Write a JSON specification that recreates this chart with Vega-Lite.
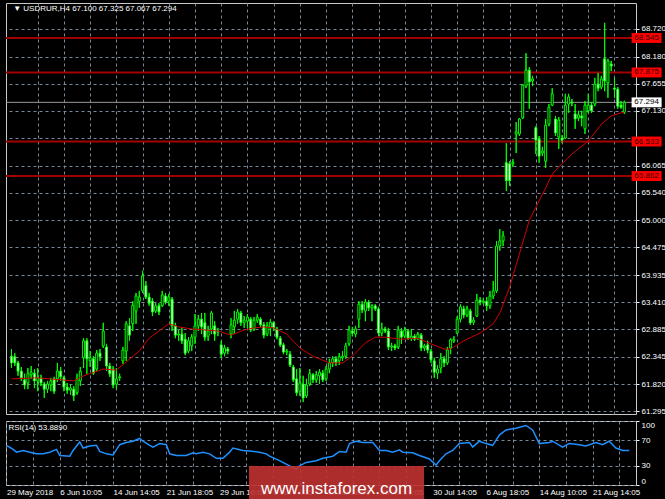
{
"$schema": "https://vega.github.io/schema/vega-lite/v6.json",
"background": "#000000",
"padding": {"left": 2, "top": 2, "right": 0, "bottom": 0},
"spacing": 4,
"resolve": {"scale": {"x": "independent", "y": "independent"}},
"config": {
  "view": {"stroke": "#c8c8c8", "strokeWidth": 1},
  "axis": {"labelColor": "#ffffff", "labelFont": "Liberation Sans", "labelFontSize": 8, "labelOverlap": false, "labelBound": false, "gridColor": "#778899", "gridDash": [3, 3], "gridOpacity": 1, "domain": false, "tickColor": "#ffffff", "title": null},
  "text": {"font": "Liberation Sans"}
},
"datasets": {
  "candles": [
{"i":0,"o":62.36,"h":62.50,"l":62.13,"c":62.23},
{"i":1,"o":62.35,"h":62.42,"l":62.17,"c":62.23},
{"i":2,"o":62.23,"h":62.27,"l":61.98,"c":62.07},
{"i":3,"o":62.07,"h":62.15,"l":61.88,"c":61.94},
{"i":4,"o":61.90,"h":62.02,"l":61.72,"c":61.80},
{"i":5,"o":61.84,"h":62.13,"l":61.72,"c":62.02},
{"i":6,"o":62.00,"h":62.17,"l":61.92,"c":62.05},
{"i":7,"o":62.03,"h":62.11,"l":61.74,"c":61.88},
{"i":8,"o":61.88,"h":62.13,"l":61.68,"c":61.94},
{"i":9,"o":61.94,"h":62.00,"l":61.78,"c":61.84},
{"i":10,"o":61.82,"h":61.86,"l":61.55,"c":61.72},
{"i":11,"o":61.72,"h":61.88,"l":61.65,"c":61.82},
{"i":12,"o":61.80,"h":61.94,"l":61.68,"c":61.88},
{"i":13,"o":61.92,"h":61.96,"l":61.63,"c":61.68},
{"i":14,"o":61.92,"h":62.23,"l":61.86,"c":62.07},
{"i":15,"o":62.07,"h":62.15,"l":61.88,"c":61.96},
{"i":16,"o":61.94,"h":61.98,"l":61.68,"c":61.76},
{"i":17,"o":61.76,"h":61.84,"l":61.63,"c":61.70},
{"i":18,"o":61.70,"h":61.82,"l":61.61,"c":61.74},
{"i":19,"o":61.72,"h":61.78,"l":61.49,"c":61.59},
{"i":20,"o":61.65,"h":62.02,"l":61.61,"c":61.92},
{"i":21,"o":61.88,"h":62.15,"l":61.78,"c":62.07},
{"i":22,"o":62.33,"h":62.71,"l":62.13,"c":62.66},
{"i":23,"o":62.66,"h":62.71,"l":62.02,"c":62.31},
{"i":24,"o":62.27,"h":62.46,"l":62.15,"c":62.33},
{"i":25,"o":62.31,"h":62.36,"l":62.00,"c":62.03},
{"i":26,"o":62.11,"h":62.48,"l":62.07,"c":62.42},
{"i":27,"o":62.42,"h":62.50,"l":62.27,"c":62.35},
{"i":28,"o":62.56,"h":63.01,"l":62.52,"c":62.85},
{"i":29,"o":62.54,"h":62.60,"l":62.07,"c":62.17},
{"i":30,"o":62.17,"h":62.23,"l":61.96,"c":62.02},
{"i":31,"o":62.11,"h":62.17,"l":61.74,"c":61.80},
{"i":32,"o":61.82,"h":62.13,"l":61.72,"c":61.92},
{"i":33,"o":61.94,"h":62.02,"l":61.88,"c":61.96},
{"i":34,"o":62.27,"h":62.54,"l":62.21,"c":62.48},
{"i":35,"o":62.46,"h":63.04,"l":62.27,"c":62.99},
{"i":36,"o":62.95,"h":63.10,"l":62.66,"c":62.77},
{"i":37,"o":62.99,"h":63.43,"l":62.85,"c":63.35},
{"i":38,"o":63.24,"h":63.59,"l":62.99,"c":63.53},
{"i":39,"o":63.43,"h":63.63,"l":63.30,"c":63.51},
{"i":40,"o":63.63,"h":64.02,"l":63.59,"c":63.92},
{"i":41,"o":63.73,"h":63.82,"l":63.47,"c":63.51},
{"i":42,"o":63.51,"h":63.59,"l":63.34,"c":63.39},
{"i":43,"o":63.43,"h":63.49,"l":63.14,"c":63.22},
{"i":44,"o":63.24,"h":63.39,"l":63.20,"c":63.34},
{"i":45,"o":63.34,"h":63.39,"l":63.16,"c":63.22},
{"i":46,"o":63.34,"h":63.63,"l":63.32,"c":63.55},
{"i":47,"o":63.53,"h":63.59,"l":63.37,"c":63.41},
{"i":48,"o":63.43,"h":63.57,"l":63.34,"c":63.51},
{"i":49,"o":63.47,"h":63.51,"l":62.85,"c":62.95},
{"i":50,"o":62.95,"h":63.01,"l":62.71,"c":62.77},
{"i":51,"o":62.77,"h":62.87,"l":62.66,"c":62.79},
{"i":52,"o":62.79,"h":62.91,"l":62.60,"c":62.66},
{"i":53,"o":62.69,"h":62.81,"l":62.38,"c":62.42},
{"i":54,"o":62.46,"h":62.73,"l":62.42,"c":62.66},
{"i":55,"o":62.56,"h":62.79,"l":62.46,"c":62.73},
{"i":56,"o":62.73,"h":63.18,"l":62.60,"c":62.95},
{"i":57,"o":62.95,"h":63.16,"l":62.85,"c":63.08},
{"i":58,"o":63.08,"h":63.20,"l":62.79,"c":62.93},
{"i":59,"o":63.01,"h":63.20,"l":62.66,"c":62.73},
{"i":60,"o":62.75,"h":62.95,"l":62.66,"c":62.85},
{"i":61,"o":62.89,"h":63.24,"l":62.79,"c":63.20},
{"i":62,"o":62.95,"h":63.04,"l":62.66,"c":62.79},
{"i":63,"o":62.83,"h":62.91,"l":62.75,"c":62.85},
{"i":64,"o":62.58,"h":62.66,"l":62.33,"c":62.40},
{"i":65,"o":62.42,"h":62.58,"l":62.36,"c":62.52},
{"i":66,"o":62.50,"h":62.54,"l":62.40,"c":62.46},
{"i":67,"o":62.79,"h":63.10,"l":62.71,"c":62.97},
{"i":68,"o":62.93,"h":63.24,"l":62.79,"c":63.06},
{"i":69,"o":63.08,"h":63.28,"l":62.99,"c":63.22},
{"i":70,"o":63.20,"h":63.24,"l":62.95,"c":63.01},
{"i":71,"o":63.01,"h":63.14,"l":62.91,"c":63.06},
{"i":72,"o":63.04,"h":63.18,"l":62.91,"c":63.12},
{"i":73,"o":63.08,"h":63.12,"l":62.83,"c":62.87},
{"i":74,"o":62.89,"h":63.12,"l":62.85,"c":63.06},
{"i":75,"o":63.06,"h":63.18,"l":63.01,"c":63.12},
{"i":76,"o":63.08,"h":63.12,"l":62.93,"c":62.97},
{"i":77,"o":62.97,"h":63.02,"l":62.71,"c":62.77},
{"i":78,"o":62.79,"h":63.02,"l":62.75,"c":62.95},
{"i":79,"o":62.91,"h":63.08,"l":62.75,"c":63.02},
{"i":80,"o":63.01,"h":63.04,"l":62.85,"c":62.91},
{"i":81,"o":62.89,"h":62.93,"l":62.69,"c":62.73},
{"i":82,"o":62.71,"h":62.75,"l":62.54,"c":62.58},
{"i":83,"o":62.58,"h":62.62,"l":62.40,"c":62.44},
{"i":84,"o":62.44,"h":62.50,"l":62.38,"c":62.46},
{"i":85,"o":62.40,"h":62.46,"l":62.15,"c":62.19},
{"i":86,"o":62.15,"h":62.19,"l":61.86,"c":61.90},
{"i":87,"o":61.92,"h":62.11,"l":61.59,"c":61.65},
{"i":88,"o":61.68,"h":62.13,"l":61.59,"c":61.84},
{"i":89,"o":61.82,"h":61.98,"l":61.47,"c":61.55},
{"i":90,"o":61.59,"h":61.92,"l":61.55,"c":61.80},
{"i":91,"o":61.82,"h":62.11,"l":61.78,"c":62.02},
{"i":92,"o":62.00,"h":62.03,"l":61.84,"c":61.90},
{"i":93,"o":61.90,"h":62.07,"l":61.84,"c":62.00},
{"i":94,"o":61.98,"h":62.11,"l":61.82,"c":62.05},
{"i":95,"o":62.03,"h":62.09,"l":61.86,"c":61.90},
{"i":96,"o":61.92,"h":62.17,"l":61.88,"c":62.11},
{"i":97,"o":62.11,"h":62.31,"l":62.03,"c":62.23},
{"i":98,"o":62.23,"h":62.36,"l":62.15,"c":62.31},
{"i":99,"o":62.31,"h":62.36,"l":62.17,"c":62.23},
{"i":100,"o":62.27,"h":62.42,"l":62.19,"c":62.35},
{"i":101,"o":62.33,"h":62.46,"l":62.27,"c":62.36},
{"i":102,"o":62.36,"h":62.62,"l":62.31,"c":62.56},
{"i":103,"o":62.60,"h":62.95,"l":62.56,"c":62.87},
{"i":104,"o":62.85,"h":62.93,"l":62.75,"c":62.81},
{"i":105,"o":62.79,"h":62.95,"l":62.73,"c":62.89},
{"i":106,"o":63.08,"h":63.43,"l":62.91,"c":63.37},
{"i":107,"o":63.37,"h":63.43,"l":63.20,"c":63.26},
{"i":108,"o":63.24,"h":63.47,"l":63.04,"c":63.41},
{"i":109,"o":63.41,"h":63.45,"l":63.24,"c":63.30},
{"i":110,"o":63.30,"h":63.37,"l":63.04,"c":63.34},
{"i":111,"o":63.34,"h":63.37,"l":63.24,"c":63.28},
{"i":112,"o":63.28,"h":63.32,"l":62.75,"c":62.81},
{"i":113,"o":62.81,"h":63.01,"l":62.75,"c":62.89},
{"i":114,"o":62.89,"h":62.93,"l":62.81,"c":62.85},
{"i":115,"o":62.85,"h":62.91,"l":62.48,"c":62.54},
{"i":116,"o":62.54,"h":62.62,"l":62.46,"c":62.56},
{"i":117,"o":62.56,"h":62.60,"l":62.48,"c":62.52},
{"i":118,"o":62.54,"h":62.95,"l":62.50,"c":62.87},
{"i":119,"o":62.85,"h":62.91,"l":62.60,"c":62.73},
{"i":120,"o":62.75,"h":62.93,"l":62.71,"c":62.87},
{"i":121,"o":62.85,"h":62.89,"l":62.68,"c":62.71},
{"i":122,"o":62.71,"h":62.89,"l":62.66,"c":62.75},
{"i":123,"o":62.75,"h":62.79,"l":62.66,"c":62.69},
{"i":124,"o":62.71,"h":62.83,"l":62.68,"c":62.79},
{"i":125,"o":62.77,"h":62.81,"l":62.46,"c":62.52},
{"i":126,"o":62.52,"h":62.60,"l":62.46,"c":62.56},
{"i":127,"o":62.58,"h":62.66,"l":62.42,"c":62.48},
{"i":128,"o":62.46,"h":62.50,"l":62.23,"c":62.29},
{"i":129,"o":62.27,"h":62.33,"l":61.94,"c":62.05},
{"i":130,"o":62.03,"h":62.19,"l":61.92,"c":62.11},
{"i":131,"o":62.13,"h":62.42,"l":62.03,"c":62.31},
{"i":132,"o":62.31,"h":62.36,"l":62.15,"c":62.23},
{"i":133,"o":62.23,"h":62.54,"l":62.19,"c":62.48},
{"i":134,"o":62.52,"h":62.71,"l":62.40,"c":62.68},
{"i":135,"o":62.66,"h":62.75,"l":62.62,"c":62.69},
{"i":136,"o":62.81,"h":63.14,"l":62.79,"c":63.08},
{"i":137,"o":63.08,"h":63.37,"l":63.02,"c":63.32},
{"i":138,"o":63.28,"h":63.34,"l":63.10,"c":63.16},
{"i":139,"o":63.16,"h":63.34,"l":63.12,"c":63.28},
{"i":140,"o":63.24,"h":63.28,"l":62.97,"c":63.01},
{"i":141,"o":63.02,"h":63.12,"l":62.97,"c":63.06},
{"i":142,"o":63.14,"h":63.57,"l":63.12,"c":63.45},
{"i":143,"o":63.45,"h":63.51,"l":63.35,"c":63.41},
{"i":144,"o":63.41,"h":63.49,"l":63.37,"c":63.43},
{"i":145,"o":63.43,"h":63.51,"l":63.24,"c":63.34},
{"i":146,"o":63.34,"h":63.63,"l":63.28,"c":63.53},
{"i":147,"o":63.53,"h":63.82,"l":63.47,"c":63.63},
{"i":148,"o":63.63,"h":64.60,"l":63.59,"c":64.50},
{"i":149,"o":64.50,"h":64.83,"l":64.41,"c":64.60},
{"i":150,"o":64.60,"h":64.79,"l":64.50,"c":64.70},
{"i":151,"o":66.12,"h":66.50,"l":65.57,"c":65.77},
{"i":152,"o":66.10,"h":66.15,"l":65.67,"c":65.77},
{"i":153,"o":66.10,"h":66.19,"l":66.04,"c":66.13},
{"i":154,"o":66.68,"h":66.91,"l":66.31,"c":66.72},
{"i":155,"o":66.68,"h":66.99,"l":66.64,"c":66.97},
{"i":156,"o":66.99,"h":67.65,"l":66.97,"c":67.63},
{"i":157,"o":67.61,"h":68.25,"l":67.57,"c":67.92},
{"i":158,"o":67.92,"h":67.98,"l":67.17,"c":67.69},
{"i":159,"o":67.71,"h":67.81,"l":67.61,"c":67.75},
{"i":160,"o":66.80,"h":66.83,"l":66.29,"c":66.56},
{"i":161,"o":66.58,"h":66.64,"l":66.12,"c":66.25},
{"i":162,"o":66.31,"h":66.43,"l":66.25,"c":66.35},
{"i":163,"o":66.15,"h":66.97,"l":66.02,"c":66.85},
{"i":164,"o":66.87,"h":67.26,"l":66.83,"c":67.20},
{"i":165,"o":67.24,"h":67.57,"l":67.22,"c":67.46},
{"i":166,"o":66.97,"h":67.03,"l":66.64,"c":66.70},
{"i":167,"o":66.62,"h":67.01,"l":66.39,"c":66.95},
{"i":168,"o":66.60,"h":66.66,"l":66.50,"c":66.56},
{"i":169,"o":66.60,"h":67.46,"l":66.58,"c":67.24},
{"i":170,"o":67.26,"h":67.46,"l":67.09,"c":67.40},
{"i":171,"o":67.30,"h":67.36,"l":67.22,"c":67.28},
{"i":172,"o":67.07,"h":67.26,"l":66.78,"c":66.97},
{"i":173,"o":66.99,"h":67.13,"l":66.93,"c":67.05},
{"i":174,"o":67.03,"h":67.13,"l":66.83,"c":66.99},
{"i":175,"o":66.78,"h":67.32,"l":66.68,"c":67.24},
{"i":176,"o":67.13,"h":67.46,"l":67.09,"c":67.24},
{"i":177,"o":67.24,"h":67.30,"l":67.09,"c":67.13},
{"i":178,"o":67.26,"h":67.77,"l":67.22,"c":67.65},
{"i":179,"o":67.65,"h":67.87,"l":67.51,"c":67.57},
{"i":180,"o":67.59,"h":67.81,"l":67.55,"c":67.75},
{"i":181,"o":68.14,"h":68.84,"l":67.51,"c":67.71},
{"i":182,"o":67.67,"h":68.14,"l":67.38,"c":68.10},
{"i":183,"o":68.04,"h":68.10,"l":67.90,"c":68.00},
{"i":184,"o":67.57,"h":67.77,"l":67.38,"c":67.55},
{"i":185,"o":67.55,"h":67.59,"l":67.17,"c":67.22},
{"i":186,"o":67.24,"h":67.32,"l":67.17,"c":67.20},
{"i":187,"o":67.100,"h":67.325,"l":67.067,"c":67.294}
  ],
  "ma": [
{"i":0,"m":61.92},{"i":8,"m":61.94},{"i":19,"m":61.88},{"i":22,"m":61.98},{"i":28,"m":62.11},{"i":32,"m":62.09},{"i":39,"m":62.46},{"i":42,"m":62.71},{"i":48,"m":62.99},{"i":51,"m":62.93},{"i":55,"m":62.89},{"i":63,"m":62.85},{"i":67,"m":62.77},{"i":71,"m":62.87},{"i":74,"m":62.91},{"i":77,"m":62.93},{"i":80,"m":62.91},{"i":84,"m":62.79},{"i":88,"m":62.52},{"i":92,"m":62.36},{"i":97,"m":62.23},{"i":101,"m":62.23},{"i":104,"m":62.36},{"i":108,"m":62.62},{"i":111,"m":62.73},{"i":114,"m":62.73},{"i":119,"m":62.69},{"i":124,"m":62.71},{"i":128,"m":62.60},{"i":132,"m":62.50},{"i":134,"m":62.50},{"i":138,"m":62.66},{"i":143,"m":62.81},{"i":147,"m":62.99},{"i":149,"m":63.20},{"i":152,"m":63.70},{"i":155,"m":64.35},{"i":158,"m":65.00},{"i":161,"m":65.38},{"i":163,"m":65.63},{"i":165,"m":65.90},{"i":168,"m":66.10},{"i":171,"m":66.29},{"i":176,"m":66.54},{"i":180,"m":66.87},{"i":183,"m":67.03},{"i":186,"m":67.09},{"i":187,"m":67.10}
  ],
  "rsi": [
{"i":0,"r":62},{"i":2,"r":55.6},{"i":3,"r":51.3},{"i":5,"r":54},{"i":7,"r":51.3},{"i":9,"r":48.7},{"i":11,"r":48.7},{"i":13,"r":51.3},{"i":15,"r":55.6},{"i":16,"r":46},{"i":19,"r":45},{"i":20,"r":54},{"i":22,"r":67.3},{"i":23,"r":57.7},{"i":25,"r":61},{"i":27,"r":62},{"i":28,"r":52.4},{"i":30,"r":48.7},{"i":32,"r":47},{"i":34,"r":63},{"i":36,"r":66.3},{"i":38,"r":68.4},{"i":40,"r":72.7},{"i":41,"r":68.4},{"i":43,"r":62},{"i":44,"r":59.3},{"i":46,"r":64.7},{"i":48,"r":63},{"i":49,"r":48.7},{"i":51,"r":46},{"i":54,"r":46},{"i":56,"r":50.3},{"i":57,"r":48.7},{"i":59,"r":51.3},{"i":61,"r":48.7},{"i":63,"r":41.7},{"i":65,"r":41.7},{"i":67,"r":51.3},{"i":68,"r":57.7},{"i":71,"r":54},{"i":73,"r":53},{"i":76,"r":51.3},{"i":78,"r":48.7},{"i":79,"r":45},{"i":82,"r":38},{"i":84,"r":32.7},{"i":87,"r":24.7},{"i":88,"r":30},{"i":90,"r":35.3},{"i":93,"r":38},{"i":95,"r":41.7},{"i":98,"r":45},{"i":100,"r":52.4},{"i":102,"r":51.3},{"i":103,"r":64.7},{"i":105,"r":68.4},{"i":107,"r":66.3},{"i":110,"r":66.3},{"i":112,"r":54},{"i":114,"r":54},{"i":116,"r":51.3},{"i":118,"r":55},{"i":119,"r":51.3},{"i":122,"r":50.3},{"i":124,"r":46},{"i":127,"r":40.7},{"i":129,"r":31},{"i":130,"r":38},{"i":132,"r":48.7},{"i":134,"r":54},{"i":136,"r":64.7},{"i":139,"r":66.3},{"i":140,"r":59.3},{"i":142,"r":68.4},{"i":144,"r":64.7},{"i":146,"r":62},{"i":148,"r":78},{"i":150,"r":86},{"i":153,"r":88.7},{"i":156,"r":93},{"i":158,"r":86},{"i":160,"r":64.7},{"i":163,"r":66.3},{"i":164,"r":68.4},{"i":167,"r":59.3},{"i":169,"r":64.7},{"i":172,"r":63},{"i":174,"r":61},{"i":177,"r":66.3},{"i":179,"r":63},{"i":181,"r":68.4},{"i":183,"r":57.7},{"i":185,"r":53.9},{"i":187,"r":53.89}
  ],
  "levels": [{"lv":68.545},{"lv":67.875},{"lv":66.533},{"lv":65.862}],
  "bid": [{"p":67.294}]
},
"vconcat": [
{
  "width": 630, "height": 411,
  "layer": [
    {"data": {"name": "candles"}, "mark": {"type": "rule", "color": "#00ff00", "strokeWidth": 1},
     "encoding": {
       "x": {"field": "i", "type": "quantitative", "title": null, "scale": {"domain": [-0.15, 189.04], "nice": false, "zero": false},
             "axis": {"values": [8,16,24,32,40,48,56,64,72,80,88,96,104,112,120,128,136,144,152,160,168,176,184], "tickCount": 200, "labels": false, "ticks": false, "grid": true, "title": null}},
       "y": {"field": "l", "type": "quantitative", "title": null,
        "scale": {"domain": [61.237, 69.225], "nice": false, "zero": false},
        "axis": {"orient": "right", "values": [61.295, 61.82, 62.345, 62.885, 63.41, 63.935, 64.475, 65.0, 65.54, 66.065, 66.6, 67.13, 67.655, 68.18, 68.72], "tickCount": 200, "format": ".3f", "labelExpr": "datum.value == 66.6 ? '' : datum.label", "tickSize": 3, "labelPadding": 2, "labelOverlap": false, "labelBound": false, "grid": true, "title": null}},
       "y2": {"field": "h"}}},
    {"data": {"name": "levels"}, "mark": {"type": "rule", "color": "#a00000", "strokeWidth": 2},
     "encoding": {"y": {"field": "lv", "type": "quantitative", "title": null}}},
    {"data": {"name": "bid"}, "mark": {"type": "rule", "color": "#9a9a9a", "strokeWidth": 1},
     "encoding": {"y": {"field": "p", "type": "quantitative", "title": null}}},
    {"data": {"name": "candles"}, "mark": {"type": "rule", "color": "#00ff00", "strokeWidth": 1},
     "encoding": {
       "x": {"field": "i", "type": "quantitative", "title": null},
       "y": {"field": "l", "type": "quantitative", "title": null},
       "y2": {"field": "h"}}},
    {"data": {"name": "candles"}, "mark": {"type": "bar", "width": 2, "stroke": "#00ff00", "strokeWidth": 1},
     "encoding": {
       "x": {"field": "i", "type": "quantitative", "title": null},
       "y": {"field": "o", "type": "quantitative", "title": null},
       "y2": {"field": "c"},
       "fill": {"condition": {"test": "datum.c >= datum.o", "value": "#000000"}, "value": "#ffffff"}}},
    {"data": {"name": "ma"}, "mark": {"type": "line", "color": "#d00000", "strokeWidth": 1},
     "encoding": {
       "x": {"field": "i", "type": "quantitative", "title": null},
       "y": {"field": "m", "type": "quantitative", "title": null}}},
    {"data": {"name": "levels"}, "mark": {"type": "point", "shape": "M-1,-0.33H1V0.33H-1Z", "size": 900, "filled": true, "color": "#ff0000", "opacity": 1},
     "encoding": {"x": {"datum": 193.8}, "y": {"field": "lv", "type": "quantitative", "title": null}}},
    {"data": {"name": "levels"}, "mark": {"type": "text", "align": "center", "baseline": "middle", "fontSize": 8, "color": "#3a0000"},
     "encoding": {"x": {"datum": 193.8}, "y": {"field": "lv", "type": "quantitative", "title": null}, "text": {"field": "lv", "type": "quantitative", "format": ".3f"}}},
    {"data": {"name": "bid"}, "mark": {"type": "point", "shape": "M-1,-0.33H1V0.33H-1Z", "size": 900, "filled": true, "color": "#ffffff", "opacity": 1},
     "encoding": {"x": {"datum": 193.8}, "y": {"field": "p", "type": "quantitative", "title": null}}},
    {"data": {"name": "bid"}, "mark": {"type": "text", "align": "center", "baseline": "middle", "fontSize": 8, "color": "#000000"},
     "encoding": {"x": {"datum": 193.8}, "y": {"field": "p", "type": "quantitative", "title": null}, "text": {"field": "p", "type": "quantitative", "format": ".3f"}}},
    {"data": {"values": [{"t": "▼ USDRUR,H4  67.100 67.325 67.067 67.294"}]}, "mark": {"type": "text", "align": "left", "baseline": "middle", "fontSize": 8, "color": "#ffffff"},
     "encoding": {"x": {"datum": 0.5}, "y": {"datum": 69.11}, "text": {"field": "t"}}}
  ]
},
{
  "width": 630, "height": 64,
  "layer": [
    {"data": {"name": "rsi"}, "mark": {"type": "line", "color": "#1e90ff", "strokeWidth": 1.5},
     "encoding": {
       "x": {"field": "i", "type": "quantitative", "title": null, "scale": {"domain": [-0.15, 189.04], "nice": false, "zero": false},
             "axis": {"values": [0,8,16,24,32,40,48,56,64,72,80,88,96,104,112,120,128,136,144,152,160,168,176,184], "tickCount": 200, "labelExpr": "datum.value % 16 == 0 ? ['29 May 2018','6 Jun 10:05','14 Jun 14:05','21 Jun 18:05','29 Jun 10:05','6 Jul 14:05','13 Jul 18:05','23 Jul 10:05','30 Jul 14:05','6 Aug 18:05','14 Aug 10:05','21 Aug 14:05'][datum.value / 16] : ''", "labelAlign": "left", "labelPadding": 3, "ticks": false, "grid": true, "labelOverlap": false, "labelBound": false, "labelFlush": false, "title": null}},
       "y": {"field": "r", "type": "quantitative", "title": null, "scale": {"domain": [0, 100], "nice": false, "zero": false},
             "axis": {"orient": "right", "values": [0, 30, 70, 100], "tickCount": 50, "tickSize": 3, "labelPadding": 2, "labelFlush": true, "labelOverlap": false, "grid": true, "title": null}}}},
    {"data": {"values": [{"t": "RSI(14) 53.8890"}]}, "mark": {"type": "text", "align": "left", "baseline": "middle", "fontSize": 8, "color": "#ffffff"},
     "encoding": {"x": {"datum": 0.6}, "y": {"datum": 89}, "text": {"field": "t"}}},
    {"data": {"values": [{"t": "www.instaforex.com"}]}, "mark": {"type": "rect", "color": "#c03232", "opacity": 0.9},
     "encoding": {"x": {"datum": 72.8}, "x2": {"datum": 125.4}, "y": {"datum": 29.7}, "y2": {"datum": -28}}},
    {"data": {"values": [{"t": "www.instaforex.com"}]}, "mark": {"type": "text", "align": "center", "baseline": "middle", "fontSize": 17, "color": "#ffffff"},
     "encoding": {"x": {"datum": 99.1}, "y": {"datum": -6}, "text": {"field": "t"}}}
  ]
}
]
}
